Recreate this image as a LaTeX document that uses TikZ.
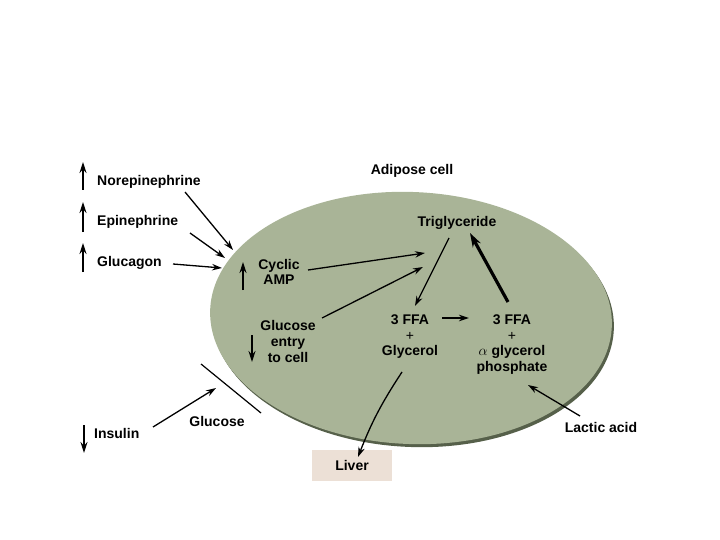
\documentclass[tikz,border=0pt]{standalone}
\usepackage{fontspec}
\setmainfont{Liberation Sans}
\usetikzlibrary{arrows.meta}
\definecolor{cellfill}{RGB}{169,180,151}
\definecolor{cellshadow}{RGB}{86,96,74}
\definecolor{liverfill}{RGB}{236,224,214}
\begin{document}
\begin{tikzpicture}[x=1pt,y=-1pt,
  lbl/.style={font=\fontsize{14}{15.5}\selectfont\bfseries, inner sep=0pt, align=center},
  arr/.style={-{Stealth[length=10pt,width=6.5pt]}, line width=1.3pt},
  bigarr/.style={-{Stealth[length=14pt,width=9pt]}, line width=3.2pt},
  ind/.style={-{Stealth[length=11pt,width=7pt]}, line width=1.5pt},
  membrane/.style={line width=1.2pt}]
\useasboundingbox (0,0) rectangle (720,540);
% cell
\fill[cellshadow, rotate around={-2.5:(413,321)}] (413,321) ellipse [x radius=201, y radius=126];
\fill[cellfill, rotate around={-2.5:(411,318)}] (411,318) ellipse [x radius=201, y radius=126];
% labels
\node[lbl] (title) at (412,171) {Adipose cell};
\node[lbl, anchor=west] (nore) at (97,182) {Norepinephrine};
\node[lbl, anchor=west] (epi) at (97,222) {Epinephrine};
\node[lbl, anchor=west] (glucagon) at (97,263) {Glucagon};
\node[lbl] (tri) at (457,223) {Triglyceride};
\node[lbl, font=\fontsize{14}{14.5}\selectfont\bfseries] (cyc) at (279,272) {Cyclic\\AMP};
\node[lbl, font=\fontsize{14}{16}\selectfont\bfseries] (gec) at (288,341) {Glucose\\entry\\to cell};
\node[lbl] (ffa1) at (410,337) {3 FFA\\{\mdseries +}\\Glycerol};
\node[lbl] (ffa2) at (512,344.5) {3 FFA\\{\mdseries +}\\$\alpha$ glycerol\\phosphate};
\node[lbl] (lactic) at (601,427) {Lactic acid};
\node[lbl, fill=liverfill, minimum width=80pt, minimum height=31pt] (liver) at (352,465.5) {Liver};
\node[lbl, anchor=west] (insulin) at (94,433) {Insulin};
\node[lbl] (glucose) at (217,421) {Glucose};
% indicator arrows
\coordinate (u1a) at (83,190); \coordinate (u1b) at (83,162);
\coordinate (u2a) at (83,232); \coordinate (u2b) at (83,202);
\coordinate (u3a) at (83,272); \coordinate (u3b) at (83,243);
\coordinate (u4a) at (243,290); \coordinate (u4b) at (243,262);
\coordinate (d1a) at (252,335); \coordinate (d1b) at (252,362);
\coordinate (d2a) at (84,425); \coordinate (d2b) at (84,453);
\draw[ind] (u1a) -- (u1b);
\draw[ind] (u2a) -- (u2b);
\draw[ind] (u3a) -- (u3b);
\draw[ind] (u4a) -- (u4b);
\draw[ind] (d1a) -- (d1b);
\draw[ind] (d2a) -- (d2b);
% hormone arrows
\coordinate (h1a) at (185,192); \coordinate (h1b) at (233,250);
\coordinate (h2a) at (190,233); \coordinate (h2b) at (225,258);
\coordinate (h3a) at (173,264); \coordinate (h3b) at (222,268);
\draw[arr] (h1a) -- (h1b);
\draw[arr] (h2a) -- (h2b);
\draw[arr] (h3a) -- (h3b);
% inside arrows
\coordinate (c1a) at (308,270); \coordinate (c1b) at (425,253);
\coordinate (g1a) at (322,318); \coordinate (g1b) at (423,267);
\coordinate (t1a) at (449,238); \coordinate (t1b) at (415,306);
\coordinate (t2a) at (508,302); \coordinate (t2b) at (470,233);
\coordinate (f1a) at (442,318); \coordinate (f1b) at (469,318);
\coordinate (l1a) at (580,416); \coordinate (l1b) at (528,385);
\coordinate (v1a) at (402,372); \coordinate (v1b) at (358,457);
\draw[arr] (c1a) -- (c1b);
\draw[arr] (g1a) -- (g1b);
\draw[arr] (t1a) -- (t1b);
\draw[bigarr] (t2a) -- (t2b);
\draw[arr] (f1a) -- (f1b);
\draw[arr] (l1a) -- (l1b);
\draw[arr] (v1a) to[bend right=6] (v1b);
% glucose and membrane
\coordinate (m1a) at (201,364); \coordinate (m1b) at (261,413);
\draw[membrane] (m1a) -- (m1b);
\coordinate (gl1a) at (153,427); \coordinate (gl1b) at (216,388);
\draw[arr] (gl1a) -- (gl1b);
\end{tikzpicture}
\end{document}
